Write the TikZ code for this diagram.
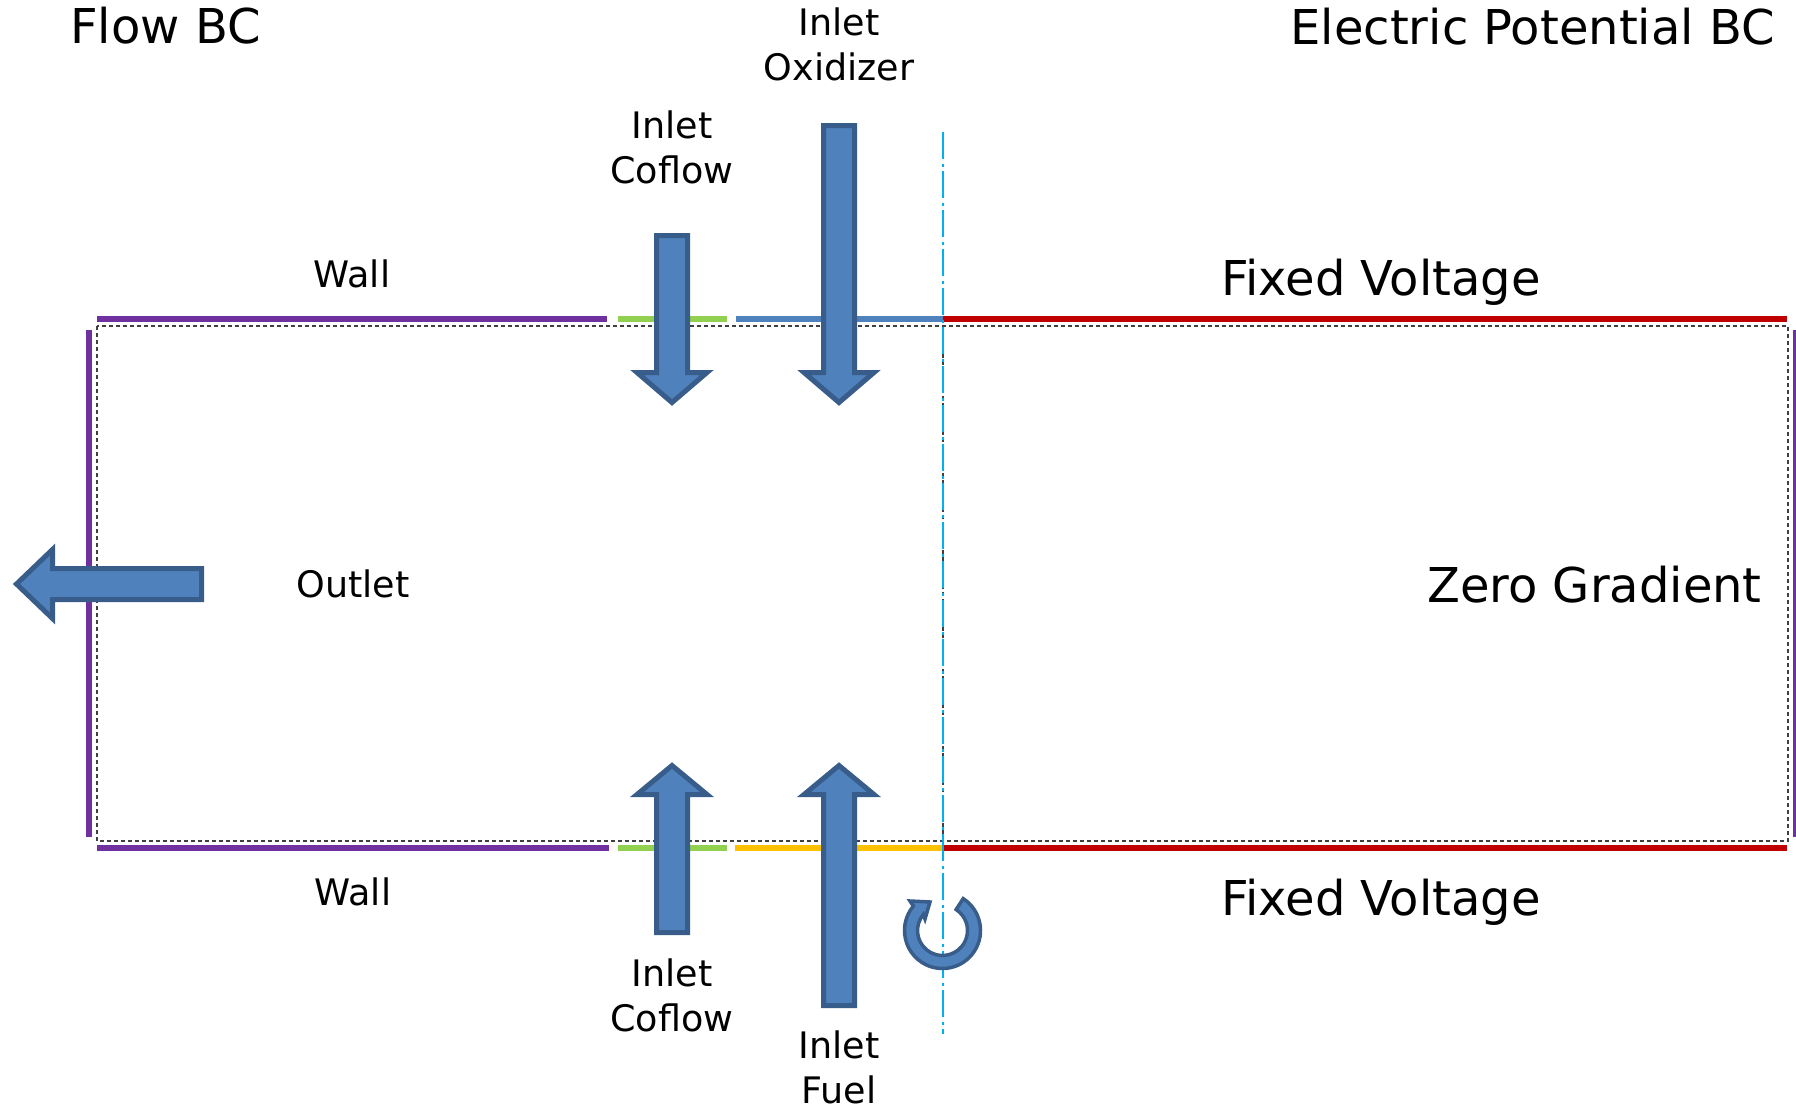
\documentclass[tikz,border=0pt]{standalone}
\usepackage{fontspec}
\setmainfont{DejaVu Sans}
\usetikzlibrary{calc}
\definecolor{cpurple}{HTML}{7030A0}
\definecolor{cgreen}{HTML}{92D050}
\definecolor{cblue}{HTML}{4F81BD}
\definecolor{cyellow}{HTML}{FFC000}
\definecolor{cred}{HTML}{C00000}
\definecolor{ccyan}{HTML}{00B0F0}
\definecolor{arrowfill}{HTML}{4F81BD}
\definecolor{arrowedge}{HTML}{385D8A}
\begin{document}
\begin{tikzpicture}[x=1pt,y=-1pt,
  bline/.style={line width=6pt},
  boxdash/.style={draw=black!75,line width=1.3pt,dash pattern=on 4pt off 3pt},
  axisline/.style={draw=ccyan,line width=2.8pt,dash pattern=on 27pt off 4.5pt on 3pt off 4.5pt},
  blockarrow/.style={fill=arrowfill,draw=arrowedge,line width=5pt,line join=miter},
  rotarrow/.style={fill=arrowfill,draw=arrowedge,line width=3.5pt,line join=miter},
  bigtxt/.style={font=\fontsize{48}{57}\selectfont,inner sep=0pt},
  smtxt/.style={font=\fontsize{36.5}{44.5}\selectfont,inner sep=0pt,align=center},
]
\useasboundingbox (0,0) rectangle (1796,1108);

% domain
\draw[boxdash] (97,326) rectangle (1788,841);
\draw[boxdash] (943,326) -- (943,841);

% top boundary segments
\draw[bline,cpurple] (97,319) -- (607,319);
\draw[bline,cgreen] (618,319) -- (727,319);
\draw[bline,cblue] (736,319) -- (943,319);
\draw[bline,cred] (943,319) -- (1787,319);
% bottom boundary segments
\draw[bline,cpurple] (97,848) -- (609,848);
\draw[bline,cgreen] (618,848) -- (727,848);
\draw[bline,cyellow] (735,848) -- (943,848);
\draw[bline,cred] (943,848) -- (1787,848);
% side walls
\draw[bline,cpurple] (89,330) -- (89,837);
\draw[bline,cpurple] (1796,330) -- (1796,837);

% symmetry axis
\draw[axisline] (943,132) -- (943,1034);

% inflow arrows (top)
\draw[blockarrow] (656.5,235.5) -- (687.5,235.5) -- (687.5,372.5) -- (707,372.5) -- (672,402.5) -- (637,372.5) -- (656.5,372.5) -- cycle;
\draw[blockarrow] (823.5,125.5) -- (854.5,125.5) -- (854.5,372.5) -- (874,372.5) -- (839,402.5) -- (804,372.5) -- (823.5,372.5) -- cycle;
% inflow arrows (bottom)
\draw[blockarrow] (656.5,932.5) -- (687.5,932.5) -- (687.5,794.5) -- (707,794.5) -- (672,765.5) -- (637,794.5) -- (656.5,794.5) -- cycle;
\draw[blockarrow] (823.5,1005.5) -- (854.5,1005.5) -- (854.5,794.5) -- (874,794.5) -- (839,765.5) -- (804,794.5) -- (823.5,794.5) -- cycle;
% outlet arrow
\draw[blockarrow] (201.5,568.5) -- (201.5,599.5) -- (52.5,599.5) -- (52.5,618.5) -- (16.5,584) -- (52.5,549.5) -- (52.5,568.5) -- cycle;

% rotation (axisymmetry) arrow
\coordinate (rc) at (942.5,930.5);
\draw[rotarrow] ($(rc)+(-57:38)$) arc[start angle=-57,end angle=220,radius=38]
  -- (910,901) -- (930,902) -- (925,919)
  -- ($(rc)+(220:25)$) arc[start angle=220,end angle=-57,radius=25] -- cycle;

% labels
\node[bigtxt,anchor=base west] (flowbc) at (70,44) {Flow BC};
\node[bigtxt,anchor=base east] (epbc) at (1775,45) {Electric Potential BC};
\node[bigtxt,anchor=base] (fvtop) at (1381,295) {Fixed Voltage};
\node[bigtxt,anchor=base] (fvbot) at (1381,915) {Fixed Voltage};
\node[bigtxt,anchor=base east] (zg) at (1762,602) {Zero Gradient};
\node[smtxt,anchor=base] (walltop) at (352,287) {Wall};
\node[smtxt,anchor=base] (wallbot) at (353,905) {Wall};
\node[smtxt,anchor=base] (outlet) at (353,597) {Outlet};
\node[smtxt,anchor=south] (inox) at (839,81) {Inlet\\Oxidizer};
\node[smtxt,anchor=south] (incotop) at (672,184) {Inlet\\Coflow};
\node[smtxt,anchor=south] (incobot) at (672,1032) {Inlet\\Coflow};
\node[smtxt,anchor=south] (infuel) at (839,1104) {Inlet\\Fuel};
\end{tikzpicture}
\end{document}
